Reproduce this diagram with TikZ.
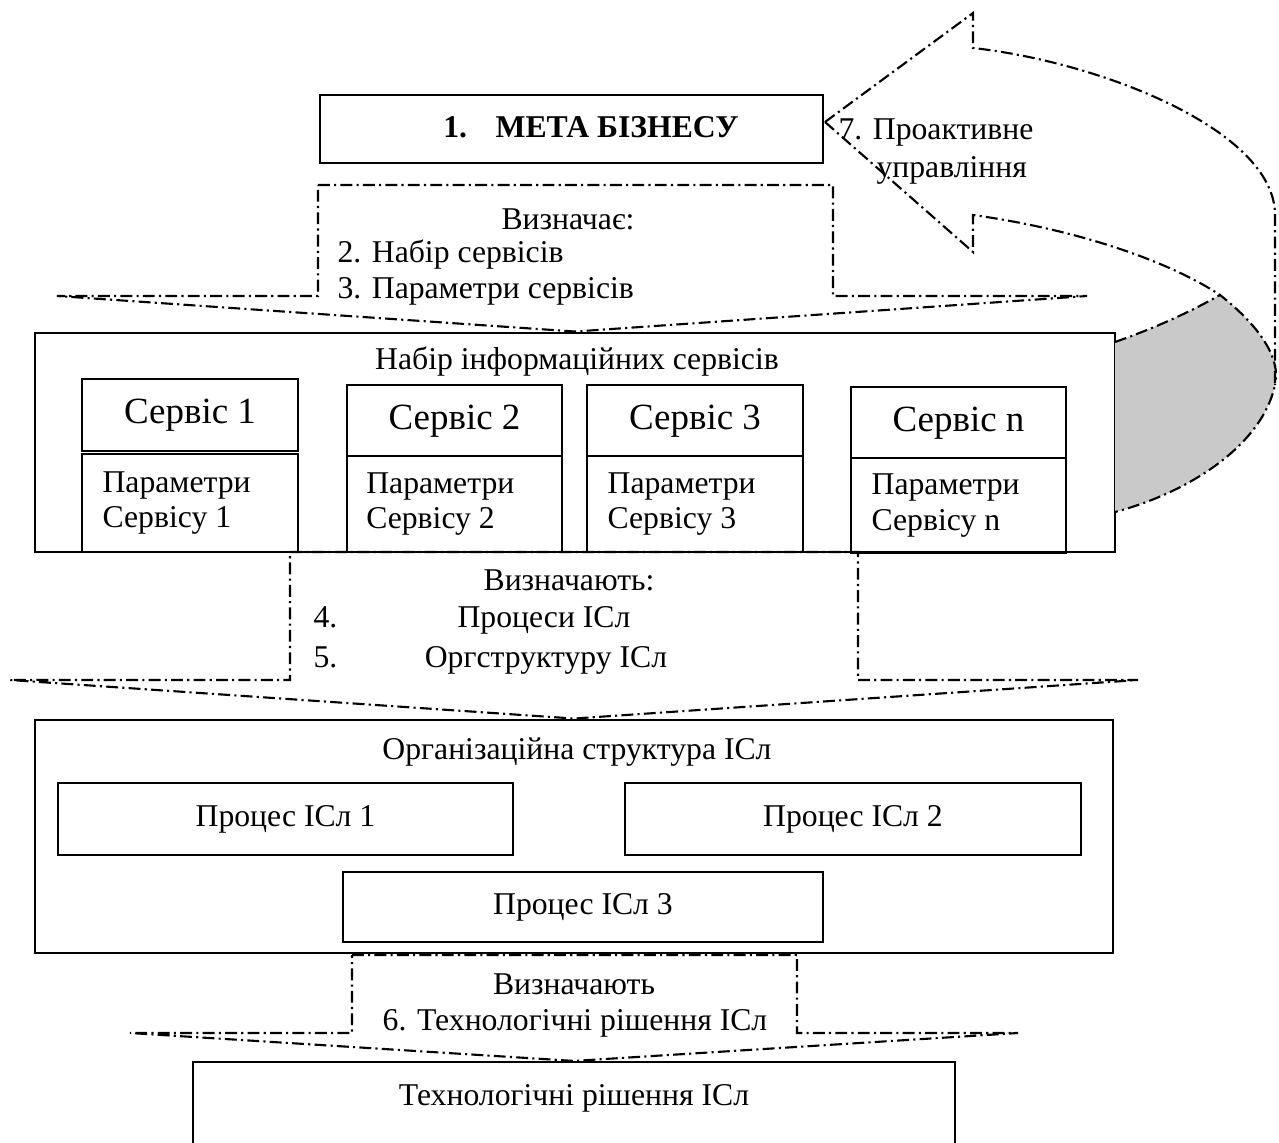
\documentclass[tikz,border=0pt]{standalone}
\usepackage{fontspec}
\setmainfont{Liberation Serif}
\usetikzlibrary{fit}

\begin{document}
\begin{tikzpicture}[
    x=0.0133cm, y=-0.0133cm,
    every node/.style={font=\fontsize{12}{13.6}\selectfont, inner sep=0pt},
    lbl/.style={text height=8.2pt, text depth=2.6pt},
    box/.style={draw, line width=0.8pt, inner sep=0pt},
    frame/.style={draw, line width=1.1pt, inner sep=0pt},
    srvtxt/.style={font=\fontsize{14}{16}\selectfont, text height=9.6pt, text depth=3pt},
    par/.style={anchor=west, align=left},
    flow/.style={line width=0.8pt, dash pattern=on 4.5pt off 1.6pt on 0.8pt off 1.6pt},
]

% Page frame (reference size in px)
\clip (0,0) rectangle (1279,1142);

% --- Level 1: business goal ---
\node[box, fit={(320,95) (823,163)}] (goal) {};
\node[lbl] (goaltxt) at (591,130) {\bfseries 1.\hspace{0.9em}МЕТА БІЗНЕСУ};
\coordinate (tip7) at (825,122);

% --- Level 2: set of services ---
\node[frame, fit={(35,333) (1115,552)}] (services) {};
\node[lbl] (servtitle) at (577,362) {Набір інформаційних сервісів};

\node[box, fit={(82,379) (298,451)}] (s1) {};
\node[srvtxt] (s1txt) at (s1.center) {Сервіс 1};
\node[box, fit={(82,454) (298,552)}] (p1) {};
\node[par] (p1txt) at ([xshift=8pt]p1.west) {Параметри\\Сервісу 1};

\node[box, fit={(347,385) (562,456)}] (s2) {};
\node[srvtxt] (s2txt) at (s2.center) {Сервіс 2};
\node[box, fit={(347,456) (562,552)}] (p2) {};
\node[par] (p2txt) at ([xshift=7.5pt]p2.west) {Параметри\\Сервісу 2};

\node[box, fit={(587,385) (803,456)}] (s3) {};
\node[srvtxt] (s3txt) at (s3.center) {Сервіс 3};
\node[box, fit={(587,456) (803,552)}] (p3) {};
\node[par] (p3txt) at ([xshift=8pt]p3.west) {Параметри\\Сервісу 3};

\node[box, fit={(851,387) (1066,458)}] (sn) {};
\node[srvtxt] (sntxt) at (sn.center) {Сервіс n};
\node[box, fit={(851,458) (1066,553)}] (pn) {};
\node[par] (pntxt) at ([xshift=8pt]pn.west) {Параметри\\Сервісу n};

% --- Level 3: organisation ---
\node[frame, fit={(35,720) (1113,953)}] (org) {};
\node[lbl] (orgtitle) at (577,752) {Організаційна структура ІСл};
\node[box, fit={(58,783) (513,855)}] (proc1) {};
\node[lbl] (proc1txt) at (proc1.center) {Процес ІСл 1};
\node[box, fit={(625,783) (1081,855)}] (proc2) {};
\node[lbl] (proc2txt) at (proc2.center) {Процес ІСл 2};
\node[box, fit={(343,872) (823,942)}] (proc3) {};
\node[lbl] (proc3txt) at (proc3.center) {Процес ІСл 3};

% --- Level 4: technology (cut by page edge) ---
\node[box, fit={(193,1062) (955,1170)}] (tech) {};
\node[lbl] (techtxt) at (574,1098) {Технологічні рішення ІСл};

% --- Flow arrow 1 ---
\draw[flow] (318,185) -- (833,185) -- (833,296) -- (1087,296) -- (services.north)
    -- (57,296) -- (318,296) -- cycle;
\node[lbl] (a1head) at (568,222) {Визначає:};
\node[lbl, anchor=west] (a1l1) at (337,255) {2. Набір сервісів};
\node[lbl, anchor=west] (a1l2) at (337,291) {3. Параметри сервісів};

% --- Flow arrow 2 ---
\draw[flow] (290,552) -- (858,552) -- (858,680) -- (1138,680) -- (org.north)
    -- (10,680) -- (290,680) -- cycle;
\node[lbl] (a2head) at (569,583) {Визначають:};
\node[lbl, anchor=west] (a2n4) at (313,620) {4.};
\node[lbl] (a2l1) at (544,620) {Процеси ІСл};
\node[lbl, anchor=west] (a2n5) at (313,660) {5.};
\node[lbl] (a2l2) at (546,660) {Оргструктуру ІСл};

% --- Flow arrow 3 ---
\draw[flow] (352,955) -- (797,955) -- (797,1033) -- (1018,1033) -- (tech.north)
    -- (130,1033) -- (352,1033) -- cycle;
\node[lbl] (a3head) at (574,987) {Визначають};
\node[lbl] (a3l1) at (575,1023) {6. Технологічні рішення ІСл};

% --- Curved feedback arrow 7 ---
\fill[black!21] (1115,342) .. controls (1155,328) and (1190,312) .. (1220,295)
    .. controls (1262,328) and (1281,360) .. (1275,385)
    .. controls (1262,445) and (1190,492) .. (1115,512) -- cycle;
\draw[flow] (1115,342) .. controls (1155,328) and (1190,312) .. (1220,295)
    .. controls (1262,328) and (1281,360) .. (1275,385);
\draw[flow] (tip7) -- (973,13) -- (973,48)
    .. controls (1100,62) and (1275,130) .. (1275,215) -- (1275,385)
    .. controls (1262,445) and (1190,492) .. (1115,512);
\draw[flow] (tip7) -- (973,252) -- (973,215)
    .. controls (1080,230) and (1170,262) .. (1220,295);
\node[lbl, anchor=west] (fbl1) at (838,132) {7. Проактивне};
\node[lbl, anchor=west] (fbl2) at (876,170) {управління};

\end{tikzpicture}
\end{document}
